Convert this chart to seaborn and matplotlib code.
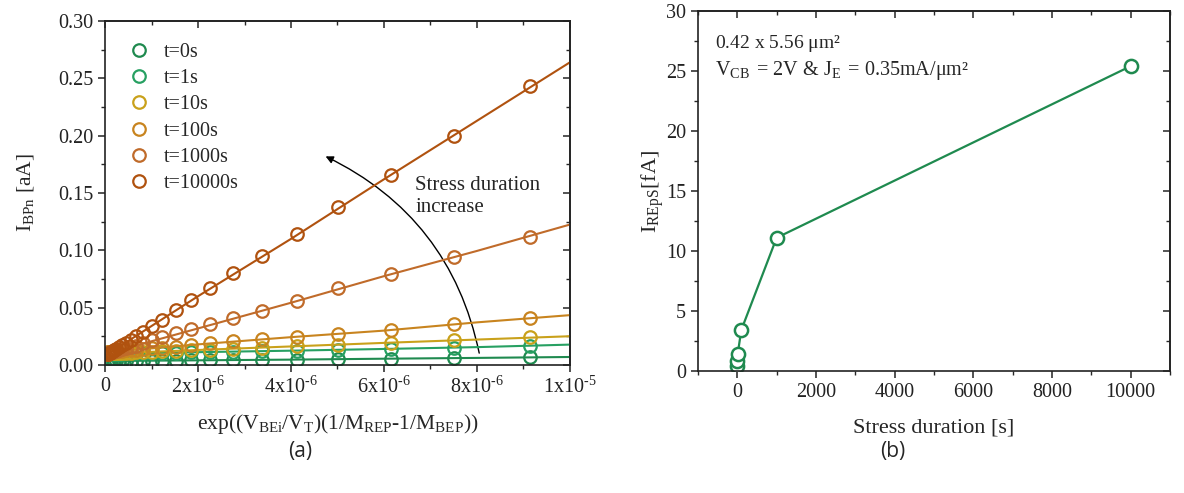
import numpy as np
import pandas as pd
import seaborn as sns
from matplotlib import pyplot as plt
from matplotlib.ticker import MultipleLocator, FuncFormatter
from matplotlib.lines import Line2D
from matplotlib.patches import FancyArrowPatch

# ---- panel (a): I_BPn vs exp(...) for several stress durations ----
stress_labels = ["t=0s", "t=1s", "t=10s", "t=100s", "t=1000s", "t=10000s"]
stress_colors = ["#1f8a4f", "#27a062", "#c9a11b", "#c8841f", "#c06b2a", "#b0520f"]

# measured x positions, in units of 1e-6
x_meas = [9.15, 7.51, 6.14, 5.02, 4.12, 3.37, 2.76, 2.26, 1.84, 1.53, 1.23, 1.01, 0.82,
          0.67, 0.55, 0.45, 0.37, 0.30, 0.245, 0.20, 0.164, 0.134, 0.11, 0.09, 0.074, 0.06]

i_t0 = [0.0067, 0.0062, 0.0056, 0.0051, 0.0047, 0.0045, 0.0043, 0.0041, 0.0040, 0.0039,
        0.0038, 0.0038, 0.0037, 0.0037, 0.0036, 0.0036, 0.0036, 0.0035, 0.0035, 0.0035,
        0.0035, 0.0035, 0.0035, 0.0035, 0.0035, 0.0035]
i_t1 = [0.0169, 0.0152, 0.0143, 0.0132, 0.0125, 0.0121, 0.0117, 0.0114, 0.0111, 0.0109,
        0.0107, 0.0105, 0.0104, 0.0103, 0.0102, 0.0101, 0.0100, 0.0100, 0.0099, 0.0099,
        0.0099, 0.0098, 0.0098, 0.0098, 0.0098, 0.0098]
i_t10 = [0.0245, 0.0217, 0.0195, 0.0178, 0.0164, 0.0150, 0.0141, 0.0134, 0.0128, 0.0124,
         0.0119, 0.0116, 0.0113, 0.0111, 0.0109, 0.0107, 0.0106, 0.0105, 0.0104, 0.0103,
         0.0102, 0.0102, 0.0101, 0.0101, 0.0100, 0.0100]
i_t100 = [0.0410, 0.0356, 0.0305, 0.0271, 0.0245, 0.0224, 0.0206, 0.0190, 0.0173, 0.0161,
          0.0152, 0.0145, 0.0139, 0.0134, 0.0130, 0.0127, 0.0124, 0.0122, 0.0120, 0.0118,
          0.0117, 0.0116, 0.0115, 0.0114, 0.0114, 0.0113]
i_t1000 = [0.112, 0.094, 0.079, 0.067, 0.056, 0.047, 0.041, 0.0355, 0.031, 0.0275,
           0.024, 0.0215, 0.0188, 0.0170, 0.0157, 0.0146, 0.0137, 0.0129, 0.0123, 0.0118,
           0.0114, 0.0111, 0.0108, 0.0106, 0.0104, 0.0103]
i_t10000 = [0.243, 0.200, 0.166, 0.138, 0.114, 0.095, 0.080, 0.067, 0.057, 0.048,
            0.039, 0.034, 0.029, 0.025, 0.022, 0.0195, 0.0175, 0.0158, 0.0142, 0.0131,
            0.0122, 0.0114, 0.0108, 0.0103, 0.0099, 0.0095]

# fitted lines, x in units of 1e-6
x_fit = [0, 1, 2, 4, 6, 8, 10]
fit_t0 = [0.0035, 0.0038, 0.0041, 0.0047, 0.0055, 0.0062, 0.0070]
fit_t1 = [0.0098, 0.0105, 0.0112, 0.0125, 0.0140, 0.0156, 0.0178]
fit_t10 = [0.0098, 0.0115, 0.0131, 0.0162, 0.0193, 0.0222, 0.0251]
fit_t100 = [0.0110, 0.0145, 0.0180, 0.0243, 0.0300, 0.0372, 0.0435]
fit_t1000 = [0.0095, 0.0207, 0.0319, 0.0543, 0.0775, 0.0995, 0.1225]
fit_t10000 = [0.0080, 0.0340, 0.0600, 0.1100, 0.1620, 0.2130, 0.2640]

meas_series = [i_t0, i_t1, i_t10, i_t100, i_t1000, i_t10000]
fit_series = [fit_t0, fit_t1, fit_t10, fit_t100, fit_t1000, fit_t10000]

# ---- panel (b): I_REpS vs stress duration ----
stress_time = [0, 1, 10, 100, 1000, 10000]
i_reps = [0.4, 0.8, 1.4, 3.4, 11.1, 25.4]

sns.set_theme(style="ticks")
plt.rcParams["font.family"] = ["Liberation Serif", "DejaVu Serif"]
plt.rcParams["mathtext.fontset"] = "custom"
plt.rcParams["mathtext.rm"] = "Liberation Serif"
plt.rcParams["mathtext.it"] = "Liberation Serif:italic"
plt.rcParams["axes.linewidth"] = 1.2
plt.rcParams["axes.edgecolor"] = "#222222"

fig = plt.figure(figsize=(11.84, 4.93), dpi=100)
ax1 = fig.add_axes([0.0887, 0.2596, 0.3927, 0.6978])
ax2 = fig.add_axes([0.5895, 0.2475, 0.3986, 0.7302])

x_meas_arr = np.array(x_meas) * 1e-6
x_fit_arr = np.array(x_fit) * 1e-6

for label, color, y_fit, y_meas in zip(stress_labels, stress_colors, fit_series, meas_series):
    sns.lineplot(x=x_fit_arr, y=y_fit, color=color, linewidth=1.5, ax=ax1)
    sns.lineplot(x=x_meas_arr, y=y_meas, color=color, linestyle="", marker="o",
                 markersize=9, markerfacecolor="none", markeredgecolor=color,
                 markeredgewidth=1.6, ax=ax1)

ax1.set_xlim(0, 1e-5)
ax1.set_ylim(0, 0.30)


def sci_fmt(v, pos):
    if abs(v) < 1e-12:
        return "0"
    exp = int(np.floor(np.log10(abs(v)) + 1e-9))
    mant = v / 10 ** exp
    return "%dx10$^{\u2010%d}$" % (round(mant), -exp)


ax1.xaxis.set_major_locator(MultipleLocator(2e-6))
ax1.xaxis.set_minor_locator(MultipleLocator(1e-6))
ax1.xaxis.set_major_formatter(FuncFormatter(sci_fmt))
ax1.yaxis.set_major_locator(MultipleLocator(0.05))
ax1.yaxis.set_minor_locator(MultipleLocator(0.025))
ax1.yaxis.set_major_formatter(FuncFormatter(lambda v, p: "%.2f" % v))

ax1.set_xlabel(r"exp((V$_{\mathrm{BEi}}$/V$_{\mathrm{T}}$)(1/M$_{\mathrm{REP}}$-1/M$_{\mathrm{BEP}}$))",
               fontsize=15.5, labelpad=10)
ax1.set_ylabel(r"I$_{\mathrm{BPn}}$ [aA]", fontsize=15.5, labelpad=16)

handles = [Line2D([], [], linestyle="", marker="o", markersize=9, markerfacecolor="none",
                  markeredgecolor=c, markeredgewidth=1.6) for c in stress_colors]
ax1.legend(handles, stress_labels, loc="upper left", bbox_to_anchor=(0.008, 0.99),
           frameon=False, fontsize=14.5, handlelength=1.2, handletextpad=0.65,
           labelspacing=0.36)

arrow = FancyArrowPatch((8.06e-6, 0.008), (4.69e-6, 0.183), connectionstyle="arc3,rad=0.25",
                        arrowstyle="-|>", mutation_scale=11, color="black", linewidth=1.0)
ax1.add_patch(arrow)
ax1.text(6.67e-6, 0.165, "Stress duration\nincrease", fontsize=15, va="top", ha="left",
         linespacing=1.25)

sns.lineplot(x=stress_time, y=i_reps, color="#1f8a4f", linewidth=1.6, marker="o",
             markersize=9.5, markerfacecolor="white", markeredgecolor="#1f8a4f",
             markeredgewidth=1.8, ax=ax2)
ax2.set_xlim(-1000, 11000)
ax2.set_ylim(0, 30)
ax2.xaxis.set_major_locator(MultipleLocator(2000))
ax2.xaxis.set_minor_locator(MultipleLocator(1000))
ax2.yaxis.set_major_locator(MultipleLocator(5))
ax2.yaxis.set_minor_locator(MultipleLocator(2.5))
ax2.set_xlabel("Stress duration [s]", fontsize=16, labelpad=12)
ax2.set_ylabel(r"I$_{\mathrm{REpS}}$[fA]", fontsize=16, labelpad=0)
ax2.text(-560, 27.25, r"0.42 x 5.56 $\mathrm{\mu}$m²", fontsize=14, va="center")
ax2.text(-560, 25.0,
         r"V$_{\mathrm{CB}}$$\,$ = 2V & J$_{\mathrm{E}}$$\,$ = 0.35mA/$\mathrm{\mu}$m²",
         fontsize=14.5, va="center")

for ax in (ax1, ax2):
    for side in ("top", "right", "left", "bottom"):
        ax.spines[side].set_visible(True)
    ax.tick_params(which="major", direction="out", length=5, width=1.1, labelsize=14.5,
                   colors="#222222")
    ax.tick_params(which="minor", direction="out", length=3, width=1.0)
    # mirrored inward ticks on top and right
    top = ax.secondary_xaxis("top")
    top.xaxis.set_major_locator(ax.xaxis.get_major_locator())
    top.xaxis.set_minor_locator(ax.xaxis.get_minor_locator())
    top.tick_params(which="major", direction="in", length=5, width=1.1, labeltop=False)
    top.tick_params(which="minor", direction="in", length=3, width=1.0)
    right = ax.secondary_yaxis("right")
    right.yaxis.set_major_locator(ax.yaxis.get_major_locator())
    right.yaxis.set_minor_locator(ax.yaxis.get_minor_locator())
    right.tick_params(which="major", direction="in", length=5, width=1.1, labelright=False)
    right.tick_params(which="minor", direction="in", length=3, width=1.0)

fig.text(0.2534, 0.085, "(a)", fontsize=15, family="Open Sans", ha="center", va="center")
fig.text(0.7542, 0.085, "(b)", fontsize=15, family="Open Sans", ha="center", va="center")

fig.savefig("out.png", dpi=100)
